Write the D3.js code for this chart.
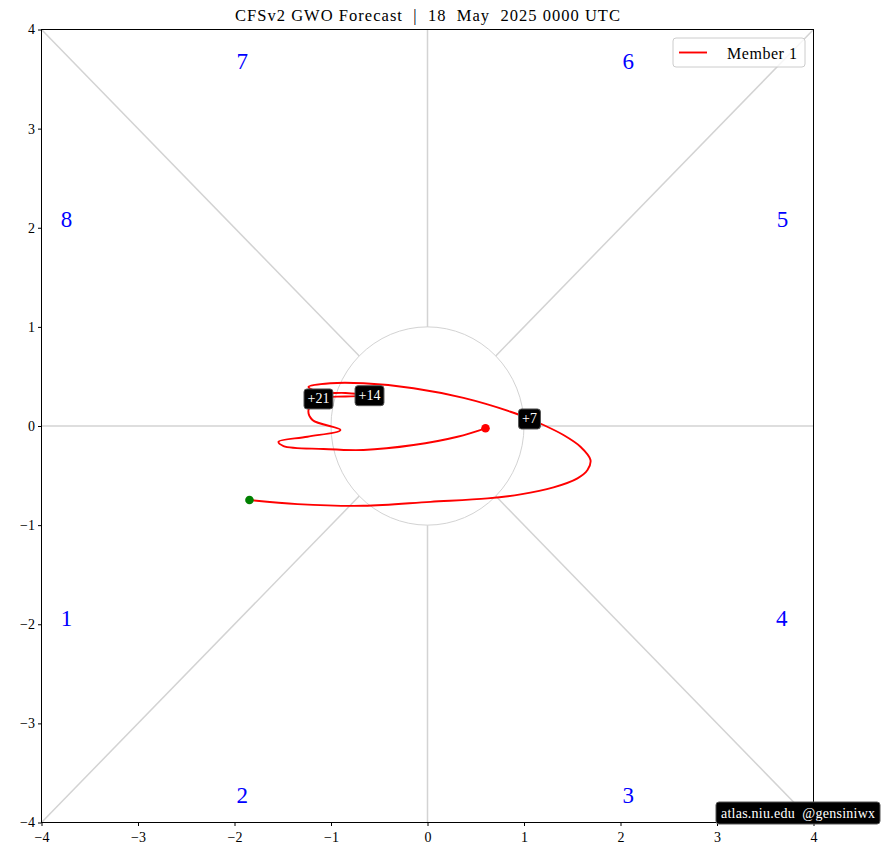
<!DOCTYPE html>
<html><head><meta charset="utf-8">
<script src="https://cdn.jsdelivr.net/npm/d3@7"></script>
<style>
html,body{margin:0;padding:0;background:#fff;}
svg text{font-family:"Liberation Serif","DejaVu Serif",serif;}
</style></head>
<body><svg id="c" width="881" height="862"></svg>
<script>
// ---- data ----
const titleText = "CFSv2 GWO Forecast  |  18  May  2025 0000 UTC";
const seriesName = "Member 1";
const traceX = [-1.845,-1.347,-0.663,0.031,0.622,0.964,1.306,1.554,1.658,1.689,1.585,1.409,1.202,1.057,0.860,0.373,-0.145,-0.663,-1.005,-1.233,-1.109,-0.850,-0.601,-0.850,-1.130,-1.233,-1.192,-0.902,-1.244,-1.544,-1.492,-1.078,-0.663,-0.145,0.311,0.601];
const traceY = [-0.747,-0.788,-0.805,-0.765,-0.730,-0.690,-0.619,-0.528,-0.444,-0.343,-0.209,-0.091,0.010,0.071,0.144,0.283,0.381,0.431,0.431,0.394,0.338,0.333,0.306,0.298,0.273,0.162,0.061,-0.040,-0.108,-0.159,-0.202,-0.232,-0.242,-0.192,-0.108,-0.023];
const leadLabels = ["+7","+14","+21"];
const leadIndex = [13,22,24];
const phaseNames = ["1","2","3","4","5","6","7","8"];
const phaseX = [-3.74,-1.92,2.08,3.67,3.68,2.08,-1.92,-3.74];
const phaseY = [-1.94,-3.73,-3.73,-1.94,2.08,3.68,3.68,2.08];
const tickVals = [-4,-3,-2,-1,0,1,2,3,4];
const watermark = "atlas.niu.edu  @gensiniwx";

// ---- layout ----
const L = 41.5, T = 29.5, R = 813.5, B = 822.5;
const svg = d3.select("#c");
const x = d3.scaleLinear().domain([-4,4]).range([L,R]);
const y = d3.scaleLinear().domain([-4,4]).range([B,T]);
const gray = "#d3d3d3";

// spokes
const r2 = Math.SQRT1_2;
const spokes = [
  [[-4,4],[-r2,r2]], [[4,4],[r2,r2]], [[-4,-4],[-r2,-r2]], [[4,-4],[r2,-r2]],
  [[-4,0],[-1,0]], [[1,0],[4,0]], [[0,4],[0,1]], [[0,-1],[0,-4]]
];
svg.append("g").selectAll("line").data(spokes).join("line")
  .attr("x1",d=>x(d[0][0])).attr("y1",d=>y(d[0][1]))
  .attr("x2",d=>x(d[1][0])).attr("y2",d=>y(d[1][1]))
  .attr("stroke",gray).attr("stroke-width",1.5);

svg.append("ellipse").attr("cx",x(0)).attr("cy",y(0))
  .attr("rx",x(1)-x(0)).attr("ry",y(0)-y(1))
  .attr("fill","none").attr("stroke",gray).attr("stroke-width",1);

// phase labels
svg.append("g").selectAll("text").data(phaseNames).join("text")
  .attr("x",(d,i)=>x(phaseX[i])).attr("y",(d,i)=>y(phaseY[i]))
  .attr("text-anchor","middle").attr("dominant-baseline","central")
  .attr("fill","#0000ff").attr("font-size",23).text(d=>d);

// trace
const pts = traceX.map((v,i)=>[v,traceY[i]]);
const line = d3.line().x(d=>x(d[0])).y(d=>y(d[1])).curve(d3.curveCatmullRom.alpha(0.5));
svg.append("path").datum(pts).attr("d",line).attr("fill","none")
  .attr("stroke","#ff0000").attr("stroke-width",1.9);

svg.append("circle").attr("cx",x(pts[0][0])).attr("cy",y(pts[0][1])).attr("r",4.3).attr("fill","green");
svg.append("circle").attr("cx",x(pts[pts.length-1][0])).attr("cy",y(pts[pts.length-1][1])).attr("r",4.3).attr("fill","#ff0000");

// lead labels
const lg = svg.append("g");
leadLabels.forEach((t,i)=>{
  const p = pts[leadIndex[i]];
  const g = lg.append("g").attr("transform",`translate(${x(p[0])},${y(p[1])})`);
  const tx = g.append("text").attr("text-anchor","middle").attr("dominant-baseline","central")
    .attr("fill","#fff").attr("font-size",14).text(t);
  const bb = tx.node().getBBox();
  g.insert("rect","text").attr("x",bb.x-3.5).attr("y",-10).attr("width",bb.width+7).attr("height",20)
    .attr("rx",3).attr("fill","#000").attr("stroke","#555").attr("stroke-width",1);
});

// axes
const fmt = d=>d3.format("")(d).replace("-","\u2212");
const xa = svg.append("g").attr("transform",`translate(0,${B})`)
  .call(d3.axisBottom(x).tickValues(tickVals).tickSize(3.5).tickFormat(fmt));
const ya = svg.append("g").attr("transform",`translate(${L},0)`)
  .call(d3.axisLeft(y).tickValues(tickVals).tickSize(3.5).tickFormat(fmt));
[xa,ya].forEach(a=>{a.select(".domain").remove();
  a.selectAll("text").attr("font-family","Liberation Serif, serif").attr("font-size",14).attr("fill","#000");
  a.selectAll("line").attr("stroke","#000");});
xa.selectAll("text").attr("dy","0.95em");
svg.append("rect").attr("x",L).attr("y",T).attr("width",R-L).attr("height",B-T)
  .attr("fill","none").attr("stroke","#000").attr("stroke-width",1);

// title
svg.append("text").attr("x",(L+R)/2).attr("y",21).attr("text-anchor","middle")
  .attr("font-size",16.5).attr("fill","#000").style("white-space","pre")
  .attr("textLength",385).attr("lengthAdjust","spacing").text(titleText);

// legend
const leg = svg.append("g").attr("transform",`translate(673,38)`);
leg.append("rect").attr("width",132).attr("height",29).attr("rx",3).attr("fill","#fff").attr("fill-opacity",0.8)
  .attr("stroke","#ccc").attr("stroke-width",1);
leg.append("line").attr("x1",6).attr("x2",34).attr("y1",14.5).attr("y2",14.5).attr("stroke","#ff0000").attr("stroke-width",1.9);
leg.append("text").attr("x",54).attr("y",15).attr("dominant-baseline","central").attr("font-size",16).attr("fill","#000")
  .attr("textLength",70).attr("lengthAdjust","spacing").text(seriesName);

// watermark
const wm = svg.append("g").attr("transform","translate(716,802)");
wm.append("rect").attr("width",164).attr("height",22).attr("rx",3).attr("fill","#000").attr("stroke","#555");
wm.append("text").attr("x",82).attr("y",11.5).attr("text-anchor","middle").attr("dominant-baseline","central")
  .attr("font-size",14).attr("fill","#fff").style("white-space","pre")
  .attr("textLength",154).attr("lengthAdjust","spacing").text(watermark);
</script></body></html>
